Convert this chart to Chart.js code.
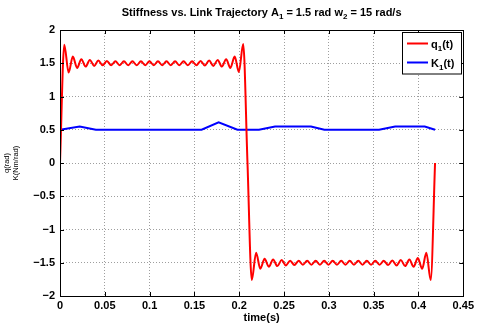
<!DOCTYPE html>
<html>
<head>
<meta charset="utf-8">
<script src="https://cdn.jsdelivr.net/npm/chart.js@4"></script>
<style>
  html, body { margin: 0; padding: 0; background: #fff; }
  canvas { display: block; }
</style>
</head>
<body>
<canvas id="myChart" width="477" height="327"></canvas>
<script>
// link trajectory q1(t): peaks and troughs
const qTime = [
	0,
	0.0048, 0.0096, 0.0143, 0.0191, 0.0238, 0.0286, 0.0333, 0.0381, 0.0428, 0.0476,
	0.0523, 0.0571, 0.0618, 0.0666, 0.0713, 0.0761, 0.0808, 0.0856, 0.0903, 0.0951,
	0.0998, 0.1046, 0.1093, 0.1141, 0.1188, 0.1236, 0.1284, 0.1331, 0.1379, 0.1426,
	0.1474, 0.1521, 0.1569, 0.1616, 0.1664, 0.1711, 0.1759, 0.1806, 0.1854, 0.1901,
	0.1949, 0.1996, 0.2044,
	0.2092,
	0.2140, 0.2188, 0.2235, 0.2283, 0.2330, 0.2378, 0.2425, 0.2473, 0.2520, 0.2568,
	0.2615, 0.2663, 0.2710, 0.2758, 0.2805, 0.2853, 0.2900, 0.2948, 0.2995, 0.3043,
	0.3090, 0.3138, 0.3185, 0.3233, 0.3280, 0.3328, 0.3376, 0.3423, 0.3471, 0.3518,
	0.3566, 0.3613, 0.3661, 0.3708, 0.3756, 0.3803, 0.3851, 0.3898, 0.3946, 0.3993,
	0.4041, 0.4088, 0.4136,
	0.4185
];
const qValues = [
	0,
	1.78, 1.36, 1.60, 1.43, 1.56, 1.45, 1.55, 1.46, 1.54, 1.47,
	1.535, 1.47, 1.53, 1.47, 1.53, 1.47, 1.53, 1.47, 1.53, 1.47,
	1.53, 1.47, 1.53, 1.47, 1.53, 1.47, 1.53, 1.47, 1.53, 1.47,
	1.53, 1.47, 1.535, 1.465, 1.54, 1.46, 1.55, 1.45, 1.56, 1.43,
	1.60, 1.37, 1.79,
	0,
	-1.76, -1.35, -1.59, -1.44, -1.56, -1.45, -1.55, -1.46, -1.54, -1.47,
	-1.535, -1.47, -1.53, -1.47, -1.53, -1.47, -1.53, -1.47, -1.53, -1.47,
	-1.53, -1.47, -1.53, -1.47, -1.53, -1.47, -1.53, -1.47, -1.53, -1.47,
	-1.53, -1.47, -1.535, -1.465, -1.54, -1.46, -1.55, -1.45, -1.56, -1.43,
	-1.59, -1.35, -1.76,
	0
];

// stiffness K1(t)
const kTime = [0, 0.022, 0.040, 0.158, 0.177, 0.198, 0.222, 0.240, 0.280, 0.295, 0.356, 0.374, 0.407, 0.4185];
const kValues = [0.5, 0.55, 0.5, 0.5, 0.61, 0.5, 0.5, 0.55, 0.55, 0.5, 0.5, 0.55, 0.55, 0.5];

const xTicks = [0, 0.05, 0.1, 0.15, 0.2, 0.25, 0.3, 0.35, 0.4, 0.45];
const yTicks = [-2, -1.5, -1, -0.5, 0, 0.5, 1, 1.5, 2];

// text pieces: [text, isSubscript]
const titleParts = [["Stiffness vs. Link Trajectory A", false], ["1", true], [" = 1.5 rad w", false], ["2", true], [" = 15 rad/s", false]];
const legendParts = [
	[["q", false], ["1", true], ["(t)", false]],
	[["K", false], ["1", true], ["(t)", false]],
];

const FONT = "'Liberation Sans', Arial, Helvetica, sans-serif";

function drawParts(ctx, parts, x, y, size, sub) {
	let cx = x;
	parts.forEach(([txt, isSub]) => {
		ctx.font = `bold ${isSub ? sub : size}px ${FONT}`;
		ctx.fillText(txt, cx, isSub ? y + 3 : y);
		cx += ctx.measureText(txt).width;
	});
}
function partsWidth(ctx, parts, size, sub) {
	let w = 0;
	parts.forEach(([txt, isSub]) => {
		ctx.font = `bold ${isSub ? sub : size}px ${FONT}`;
		w += ctx.measureText(txt).width;
	});
	return w;
}

const matlabFrame = {
	id: "matlabFrame",
	afterDraw(chart) {
		const ctx = chart.ctx;
		const a = chart.chartArea;
		const xs = chart.scales.x;
		const ys = chart.scales.y;
		ctx.save();
		ctx.strokeStyle = "#000";
		ctx.lineWidth = 1;
		// box
		ctx.strokeRect(Math.round(a.left) + 0.5, Math.round(a.top) + 0.5, Math.round(a.right - a.left), Math.round(a.bottom - a.top));
		// inward ticks
		ctx.beginPath();
		xTicks.forEach((v) => {
			const px = Math.round(xs.getPixelForValue(v)) + 0.5;
			ctx.moveTo(px, a.bottom); ctx.lineTo(px, a.bottom - 4);
			ctx.moveTo(px, a.top); ctx.lineTo(px, a.top + 4);
		});
		yTicks.forEach((v) => {
			const py = Math.round(ys.getPixelForValue(v)) + 0.5;
			ctx.moveTo(a.left, py); ctx.lineTo(a.left + 4, py);
			ctx.moveTo(a.right, py); ctx.lineTo(a.right - 4, py);
		});
		ctx.stroke();

		// title
		ctx.fillStyle = "#000";
		ctx.textBaseline = "alphabetic";
		const tw = partsWidth(ctx, titleParts, 11, 8);
		drawParts(ctx, titleParts, (a.left + a.right) / 2 - tw / 2, 16, 11, 8);

		// legend box
		const lx = 402.5, ly = 32.5, lw = 59, lh = 41.5;
		ctx.fillStyle = "#fff";
		ctx.fillRect(lx, ly, lw, lh);
		ctx.strokeRect(lx, ly, lw, lh);
		chart.data.datasets.forEach((ds, i) => {
			const yy = 43.5 + i * 19;
			ctx.strokeStyle = ds.borderColor;
			ctx.lineWidth = 2;
			ctx.beginPath();
			ctx.moveTo(407, yy); ctx.lineTo(428, yy);
			ctx.stroke();
			ctx.fillStyle = "#000";
			drawParts(ctx, legendParts[i], 431, yy + 4, 11, 8);
		});
		ctx.restore();
	},
};

const data = {
	datasets: [
		{
			label: "q1(t)",
			data: qTime.map((t, i) => ({ x: t, y: qValues[i] })),
			borderColor: "#ff0000",
			borderWidth: 2,
			pointRadius: 0,
			cubicInterpolationMode: "monotone",
		},
		{
			label: "K1(t)",
			data: kTime.map((t, i) => ({ x: t, y: kValues[i] })),
			borderColor: "#0000ff",
			borderWidth: 2,
			pointRadius: 0,
			tension: 0,
		},
	],
};

const tickFont = { family: FONT, size: 11, weight: "bold" };
const minus = (v) => String(v).replace("-", "\u2212");

const config = {
	type: "line",
	data,
	plugins: [matlabFrame],
	options: {
		responsive: false,
		animation: false,
		devicePixelRatio: 1,
		layout: { padding: { top: 30, right: 12, left: 0, bottom: 0 } },
		plugins: {
			legend: { display: false },
			title: { display: false },
			tooltip: { enabled: false },
		},
		scales: {
			x: {
				type: "linear",
				min: 0,
				max: 0.45,
				afterBuildTicks: (s) => { s.ticks = xTicks.map((v) => ({ value: v })); },
				afterFit: (s) => { s.height = 31; },
				grid: { color: "rgba(0,0,0,0.38)", lineWidth: 1, drawTicks: false },
				border: { display: false, dash: [1, 2] },
				ticks: { color: "#000", font: tickFont, padding: 3, maxRotation: 0, autoSkip: false, callback: (v) => minus(v) },
				title: { display: true, text: "time(s)", color: "#000", font: tickFont, padding: { top: 0, bottom: 2 } },
			},
			y: {
				min: -2,
				max: 2,
				afterBuildTicks: (s) => { s.ticks = yTicks.map((v) => ({ value: v })); },
				afterFit: (s) => { s.width = 60; },
				grid: { color: "rgba(0,0,0,0.38)", lineWidth: 1, drawTicks: false },
				border: { display: false, dash: [1, 2] },
				ticks: { color: "#000", font: tickFont, padding: 5, autoSkip: false, callback: (v) => minus(v) },
				title: { display: true, text: ["q(rad)", "K(Nm/rad)"], color: "#000", font: { family: FONT, size: 7.5 }, padding: { top: 2, bottom: 0 } },
			},
		},
	},
};

const ctx = document.getElementById("myChart").getContext("2d");
new Chart(ctx, config);
</script>
</body>
</html>
